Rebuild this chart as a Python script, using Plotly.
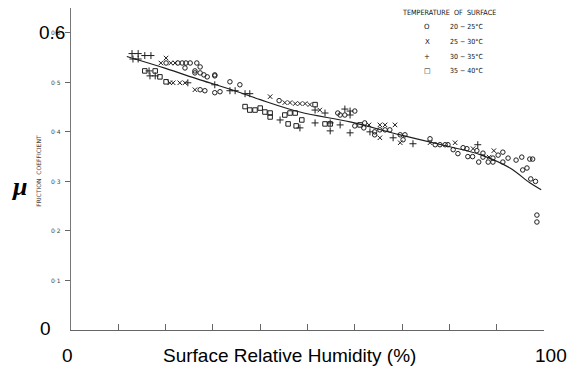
import plotly.graph_objects as go

# ---- data ----
curve_x = [11.8, 20.0, 27.3, 34.0, 40.0, 48.4, 59.0, 69.6, 80.1, 86.5, 92.8, 97.0, 99.4]
curve_y = [0.552, 0.528, 0.505, 0.485, 0.465, 0.440, 0.420, 0.394, 0.370, 0.354, 0.327, 0.297, 0.283]

circ_x = [20.1, 22.6, 23.5, 24.3, 25.2, 26.6, 24.1, 27.3, 26.2, 26.2, 27.3, 28.1, 28.8, 30.4,
          27.3, 28.3, 30.4, 30.4, 33.6, 35.7, 31.5, 44.0, 56.4, 56.9, 57.9, 60.0, 60.0, 62.1,
          61.9, 64.2, 64.2, 65.3, 66.4, 67.4, 69.6, 70.6, 70.2, 75.9, 77.0, 78.0, 79.1, 79.7,
          80.8, 81.8, 82.9, 83.7, 83.9, 84.9, 85.8, 86.2, 87.1, 87.1, 88.2, 89.2, 89.2, 90.3,
          91.3, 91.3, 92.4, 94.1, 95.3, 95.5, 96.4, 97.0, 97.6, 97.2, 98.2, 98.5, 98.5]
circ_y = [0.539, 0.539, 0.539, 0.539, 0.539, 0.539, 0.529, 0.531, 0.523, 0.519, 0.519, 0.515,
          0.511, 0.513, 0.485, 0.483, 0.479, 0.515, 0.501, 0.495, 0.481, 0.463, 0.438, 0.434,
          0.434, 0.442, 0.412, 0.418, 0.408, 0.400, 0.394, 0.404, 0.404, 0.404, 0.394, 0.394,
          0.384, 0.386, 0.374, 0.374, 0.374, 0.374, 0.364, 0.356, 0.368, 0.366, 0.350, 0.350,
          0.362, 0.339, 0.357, 0.349, 0.339, 0.339, 0.347, 0.353, 0.359, 0.339, 0.347, 0.343,
          0.349, 0.323, 0.327, 0.345, 0.345, 0.305, 0.300, 0.232, 0.218]

x_x = [19.0, 20.1, 21.1, 22.0, 20.9, 21.6, 23.0, 24.1, 26.2, 42.1, 45.2, 46.3, 47.4, 48.4,
       49.5, 50.5, 52.6, 63.0, 65.3, 65.3, 66.4, 68.5, 69.6, 75.9, 81.2, 85.0, 88.4, 89.4]
x_y = [0.539, 0.549, 0.539, 0.539, 0.499, 0.499, 0.499, 0.499, 0.485, 0.471, 0.459, 0.459,
       0.457, 0.457, 0.457, 0.455, 0.444, 0.414, 0.414, 0.388, 0.414, 0.414, 0.378, 0.378,
       0.378, 0.366, 0.349, 0.362]

plus_x = [12.9, 13.1, 14.2, 14.2, 15.6, 16.9, 16.5, 16.7, 17.8, 24.7, 30.4, 33.6, 34.7, 36.8,
          37.8, 44.2, 48.4, 51.6, 51.6, 53.7, 54.8, 54.8, 57.9, 59.0, 59.0, 56.9, 59.0, 63.2,
          68.1, 72.3, 86.0]
plus_y = [0.558, 0.547, 0.558, 0.547, 0.554, 0.554, 0.523, 0.513, 0.513, 0.499, 0.495, 0.483,
          0.483, 0.477, 0.477, 0.424, 0.408, 0.444, 0.418, 0.438, 0.418, 0.402, 0.446, 0.442,
          0.434, 0.414, 0.398, 0.400, 0.388, 0.376, 0.374]

sq_x = [15.6, 17.8, 18.8, 20.1, 36.8, 37.8, 38.9, 40.0, 41.0, 42.1, 42.1, 45.2, 46.3, 47.4,
        45.9, 47.6, 48.8, 51.6, 53.7, 54.8, 61.1]
sq_y = [0.523, 0.523, 0.511, 0.501, 0.451, 0.444, 0.444, 0.448, 0.440, 0.438, 0.430, 0.434,
        0.438, 0.438, 0.416, 0.412, 0.424, 0.455, 0.416, 0.416, 0.414]

y_small_ticks = [0.1, 0.2, 0.3, 0.4, 0.5, 0.6]
y_small_labels = ["0·1", "0·2", "0·3", "0·4", "0·5", "0·6"]
x_ticks = [10, 20, 30, 40, 50, 60, 70, 80, 90, 100]

legend_symbols = ["O", "X", "+", "□"]
legend_labels = ["20 − 25°C", "25 − 30°C", "30 − 35°C", "35 − 40°C"]

INK = "#1e1e1e"

fig = go.Figure()
fig.add_trace(go.Scatter(x=curve_x, y=curve_y, mode="lines",
                         line=dict(color=INK, width=1.2, shape="spline"),
                         hoverinfo="skip"))

def add_pts(xs, ys, sym, size):
    fig.add_trace(go.Scatter(x=xs, y=ys, mode="markers",
                             marker=dict(symbol=sym, size=size, color=INK,
                                         line=dict(color=INK, width=1))))

add_pts(circ_x, circ_y, "circle-open", 4.5)
add_pts(x_x, x_y, "x-thin-open", 4.5)
add_pts(plus_x, plus_y, "cross-thin-open", 5)
add_pts(sq_x, sq_y, "square-open", 4.5)

small_font = dict(family="DejaVu Sans", size=6, color="#444")
big_font = dict(family="Liberation Sans, Arial", size=19, color="black")

ann = []
for v, t in zip(y_small_ticks, y_small_labels):
    ann.append(dict(xref="paper", yref="y", x=-0.016, y=v, text=t, showarrow=False,
                    xanchor="right", yanchor="middle", font=small_font))
ann.append(dict(xref="paper", yref="y", x=-0.008, y=0.6, text="0.6", showarrow=False,
                xanchor="right", yanchor="middle", font=big_font))
ann.append(dict(xref="paper", yref="y", x=-0.038, y=0.004, text="0", showarrow=False,
                xanchor="right", yanchor="middle", font=big_font))
ann.append(dict(xref="paper", yref="paper", x=-0.008, y=-0.078, text="0", showarrow=False,
                xanchor="center", yanchor="middle", font=big_font))
ann.append(dict(xref="paper", yref="paper", x=1.015, y=-0.078, text="100", showarrow=False,
                xanchor="center", yanchor="middle", font=big_font))
ann.append(dict(xref="paper", yref="paper", x=0.463, y=-0.078,
                text="Surface Relative Humidity (%)", showarrow=False,
                xanchor="center", yanchor="middle", font=big_font))
ann.append(dict(xref="paper", yref="paper", x=-0.11, y=0.447, text="<b><i>μ</i></b>",
                showarrow=False, xanchor="center", yanchor="middle",
                font=dict(family="Liberation Serif, Times New Roman", size=26, color="black")))
ann.append(dict(xref="paper", yref="paper", x=-0.068, y=0.494, text="FRICTION  COEFFICIENT",
                showarrow=False, textangle=-90, xanchor="center", yanchor="middle",
                font=dict(family="DejaVu Sans", size=6, color="#444")))
ann.append(dict(xref="paper", yref="paper", x=0.696, y=0.985, text="TEMPERATURE  OF  SURFACE",
                showarrow=False, xanchor="left", yanchor="middle",
                font=dict(family="DejaVu Sans Condensed, DejaVu Sans", size=7.2, color="#111")))
row_y = [0.942, 0.893, 0.849, 0.804]
for s, lab, yy in zip(legend_symbols, legend_labels, row_y):
    ann.append(dict(xref="paper", yref="paper", x=0.753, y=yy, text=s, showarrow=False,
                    xanchor="center", yanchor="middle",
                    font=dict(family="DejaVu Sans", size=7, color="#111")))
    ann.append(dict(xref="paper", yref="paper", x=0.797, y=yy, text=lab, showarrow=False,
                    xanchor="left", yanchor="middle",
                    font=dict(family="DejaVu Sans Condensed, DejaVu Sans", size=7, color="#111")))

fig.update_layout(
    width=587, height=373,
    margin=dict(l=71, r=43, t=8, b=43),
    paper_bgcolor="white", plot_bgcolor="white",
    showlegend=False,
    annotations=ann,
    xaxis=dict(range=[0, 100], showgrid=False, zeroline=False, showline=True,
               linecolor="#666", linewidth=1.3, ticks="inside", ticklen=6,
               tickcolor="#666", tickwidth=1, tickvals=x_ticks, showticklabels=False),
    yaxis=dict(range=[0, 0.65], showgrid=False, zeroline=False, showline=True,
               linecolor="#777", linewidth=1.3, ticks="outside", ticklen=5,
               tickcolor="#666", tickwidth=1, tickvals=y_small_ticks, showticklabels=False),
)

fig.write_html("out.html")
